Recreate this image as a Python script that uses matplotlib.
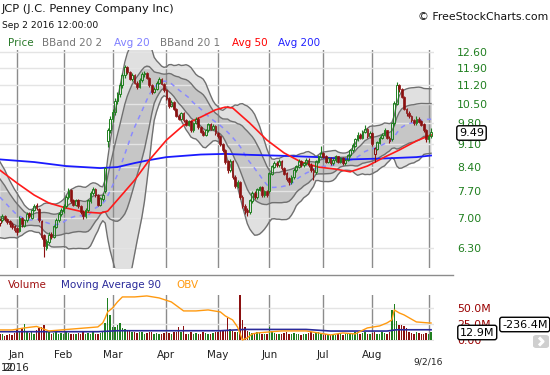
import matplotlib

matplotlib.use("Agg")
import matplotlib.pyplot as plt
import numpy as np
import pandas as pd
from matplotlib.lines import Line2D
from matplotlib.patches import FancyBboxPatch

W, H = 550, 375

# trading days shown, Dec 22 2015 .. Sep 2 2016
holidays = ["2015-12-25", "2016-01-01", "2016-01-18", "2016-02-15",
            "2016-03-25", "2016-05-30", "2016-07-04"]
dates = pd.bdate_range("2015-12-22", "2016-09-02")
dates = dates[~dates.isin(pd.to_datetime(holidays))]

# closes before the visible window, only used to warm up the 20 day bands
warmup_closes = [8.40, 8.30, 8.35, 8.20, 8.05, 7.95, 7.80, 7.70, 7.60, 7.55,
                 7.40, 7.30, 7.20, 7.10, 7.05, 7.00, 6.95, 7.05, 7.00]

opens = [
    6.88, 6.95, 7.05, 6.98, 6.92, 6.86, 6.80,  # dec
    6.76, 6.70, 7.00, 6.82, 6.96, 7.12, 7.02, 7.22, 7.32, 7.22, 6.92, 6.58, 6.30, 6.44,
    6.62, 6.55, 6.80, 6.95, 7.10,  # jan
    7.18, 7.30, 7.55, 7.72, 7.45, 7.35, 7.46, 7.30, 7.15, 7.05, 7.20, 7.45, 7.65, 7.76,
    7.60, 7.35, 7.50, 7.70, 9.20, 9.55,  # feb
    9.95, 10.20, 10.60, 10.85, 11.20, 11.60, 11.95, 11.75, 11.45, 11.60, 11.30, 11.15,
    11.40, 11.65, 11.70, 11.50, 11.20, 10.95, 11.05, 11.30, 11.45, 11.25,  # mar
    11.00, 10.70, 10.40, 10.55, 10.30, 10.05, 9.95, 10.15, 9.90, 9.75, 9.85, 9.55, 9.80,
    9.95, 9.65, 9.50, 9.40, 9.55, 9.75, 9.60, 9.70,  # apr
    9.45, 9.35, 9.10, 8.90, 8.55, 8.30, 8.55, 8.10, 7.85, 7.95, 7.55, 7.30, 7.20, 7.15,
    7.45, 7.65, 7.55, 7.75, 7.80, 7.60, 7.70,  # may
    7.70, 8.20, 8.40, 8.50, 8.45, 8.55, 8.35, 8.20, 8.05, 7.95, 8.10, 8.30, 8.40, 8.55,
    8.45, 8.50, 8.60, 8.45, 8.30, 8.25, 8.55, 8.70,  # jun
    8.80, 8.70, 8.55, 8.65, 8.50, 8.60, 8.70, 8.55, 8.65, 8.50, 8.60, 8.75, 8.90, 9.05,
    9.25, 9.40, 9.30, 9.50, 9.60, 9.35,  # jul
    9.45, 8.80, 8.95, 9.15, 9.30, 9.40, 9.55, 9.30, 9.25, 9.80, 10.50, 11.20, 11.05,
    10.75, 10.30, 10.15, 10.05, 9.90, 9.80, 9.95, 9.85, 9.75, 9.55,  # aug
    9.25, 9.35,  # sep
]
highs = [
    7.00, 7.12, 7.08, 7.02, 6.96, 6.90, 6.84,
    6.80, 7.06, 7.04, 6.99, 7.15, 7.16, 7.24, 7.36, 7.38, 7.26, 6.96, 6.62, 6.50, 6.66,
    6.68, 6.84, 7.00, 7.15, 7.26,
    7.36, 7.60, 7.80, 7.76, 7.50, 7.50, 7.50, 7.34, 7.20, 7.25, 7.50, 7.70, 7.82, 7.80,
    7.64, 7.55, 7.66, 8.40, 9.62, 10.05,
    10.30, 10.70, 10.95, 11.30, 11.70, 12.05, 12.00, 11.80, 11.70, 11.65, 11.38, 11.50,
    11.72, 11.80, 11.75, 11.55, 11.25, 11.12, 11.36, 11.55, 11.50, 11.30,
    11.05, 10.75, 10.62, 10.60, 10.35, 10.12, 10.20, 10.20, 9.95, 9.92, 9.90, 9.85, 10.02,
    10.00, 9.70, 9.55, 9.60, 9.82, 9.80, 9.76, 9.74,
    9.50, 9.40, 9.15, 8.95, 8.60, 8.62, 8.60, 8.15, 8.02, 8.00, 7.60, 7.36, 7.26, 7.50,
    7.70, 7.70, 7.80, 7.86, 7.84, 7.75, 7.74,
    8.25, 8.46, 8.56, 8.58, 8.62, 8.60, 8.40, 8.25, 8.10, 8.16, 8.36, 8.45, 8.62, 8.60,
    8.55, 8.66, 8.65, 8.50, 8.36, 8.60, 8.76, 9.05,
    8.85, 8.75, 8.70, 8.70, 8.65, 8.76, 8.74, 8.70, 8.68, 8.64, 8.80, 8.95, 9.12, 9.30,
    9.50, 9.46, 9.56, 9.72, 9.64, 9.52,
    9.50, 9.00, 9.20, 9.36, 9.46, 9.62, 9.58, 9.36, 9.85, 10.60, 11.35, 11.25, 11.10,
    10.80, 10.35, 10.22, 10.10, 9.96, 10.05, 10.00, 9.90, 9.80, 9.60,
    9.42, 9.62,
]
lows = [
    6.82, 6.90, 6.93, 6.86, 6.80, 6.74, 6.66,
    6.60, 6.66, 6.80, 6.78, 6.92, 7.00, 6.98, 7.18, 7.20, 6.90, 6.50, 6.10, 6.26, 6.40,
    6.50, 6.52, 6.76, 6.90, 7.05,
    7.14, 7.26, 7.50, 7.40, 7.30, 7.30, 7.26, 7.10, 6.98, 7.00, 7.16, 7.40, 7.60, 7.55,
    7.30, 7.30, 7.45, 7.65, 9.00, 9.45,
    9.85, 10.10, 10.50, 10.75, 11.10, 11.50, 11.65, 11.40, 11.38, 11.25, 11.05, 11.10,
    11.35, 11.55, 11.45, 11.15, 10.88, 10.90, 11.00, 11.25, 11.20, 10.95,
    10.65, 10.35, 10.36, 10.25, 10.00, 9.90, 9.90, 9.85, 9.70, 9.70, 9.50, 9.50, 9.76,
    9.60, 9.45, 9.35, 9.36, 9.50, 9.55, 9.56, 9.40,
    9.30, 9.05, 8.85, 8.48, 8.22, 8.25, 8.05, 7.80, 7.80, 7.50, 7.25, 7.12, 7.05, 7.10,
    7.40, 7.50, 7.50, 7.70, 7.55, 7.55, 7.55,
    7.65, 8.15, 8.35, 8.40, 8.40, 8.30, 8.15, 8.00, 7.88, 7.90, 8.05, 8.25, 8.35, 8.40,
    8.40, 8.45, 8.40, 8.25, 8.02, 8.20, 8.50, 8.65,
    8.65, 8.50, 8.50, 8.45, 8.46, 8.55, 8.50, 8.52, 8.45, 8.46, 8.56, 8.70, 8.85, 9.00,
    9.20, 9.25, 9.25, 9.45, 9.30, 9.30,
    9.05, 8.55, 8.90, 9.10, 9.25, 9.35, 9.25, 9.12, 9.20, 9.75, 10.45, 10.95, 10.70,
    10.25, 10.05, 9.98, 9.85, 9.72, 9.75, 9.80, 9.70, 9.50, 9.18,
    9.18, 9.30,
]
closes = [
    6.95, 7.05, 6.98, 6.90, 6.85, 6.78, 6.72,
    6.66, 7.00, 6.85, 6.95, 7.10, 7.05, 7.20, 7.30, 7.25, 6.95, 6.55, 6.35, 6.45, 6.60,
    6.55, 6.80, 6.95, 7.10, 7.20,
    7.30, 7.55, 7.70, 7.45, 7.35, 7.45, 7.30, 7.15, 7.05, 7.20, 7.45, 7.65, 7.75, 7.60,
    7.35, 7.50, 7.60, 8.35, 9.55, 9.95,
    10.20, 10.60, 10.85, 11.20, 11.60, 11.95, 11.75, 11.45, 11.60, 11.30, 11.15, 11.40,
    11.65, 11.70, 11.50, 11.20, 10.95, 11.05, 11.30, 11.45, 11.25, 11.00,
    10.70, 10.40, 10.55, 10.30, 10.05, 9.95, 10.15, 9.90, 9.75, 9.85, 9.55, 9.80, 9.95,
    9.65, 9.50, 9.40, 9.55, 9.75, 9.60, 9.70, 9.45,
    9.35, 9.10, 8.90, 8.55, 8.30, 8.55, 8.10, 7.85, 7.95, 7.55, 7.30, 7.20, 7.15, 7.45,
    7.65, 7.55, 7.75, 7.80, 7.60, 7.70, 7.60,
    8.20, 8.40, 8.50, 8.45, 8.55, 8.35, 8.20, 8.05, 7.95, 8.10, 8.30, 8.40, 8.55, 8.45,
    8.50, 8.60, 8.45, 8.30, 8.25, 8.55, 8.70, 8.80,
    8.70, 8.55, 8.65, 8.50, 8.60, 8.70, 8.55, 8.65, 8.50, 8.60, 8.75, 8.90, 9.05, 9.25,
    9.40, 9.30, 9.50, 9.60, 9.35, 9.45,
    9.10, 8.95, 9.15, 9.30, 9.40, 9.55, 9.30, 9.20, 9.80, 10.50, 11.20, 11.05, 10.75,
    10.30, 10.15, 10.05, 9.90, 9.80, 9.95, 9.85, 9.75, 9.55, 9.25,
    9.35, 9.49,
]
# daily volume, millions
volumes = [
    9, 10, 7, 8, 9, 8, 11,
    17, 13, 18, 25, 12, 11, 13, 10, 16, 19, 21, 23, 14, 12, 10, 11, 12, 10, 11,
    10, 12, 11, 9, 10, 9, 11, 10, 12, 9, 11, 10, 12, 9, 10, 11, 13, 26, 65, 39,
    21, 20, 24, 26, 18, 17, 15, 16, 13, 12, 11, 13, 12, 10, 11, 12, 13, 10, 11, 9, 10, 11,
    12, 11, 10, 12, 13, 20, 12, 22, 10, 9, 12, 10, 11, 9, 10, 12, 11, 10, 9, 11, 12,
    13, 15, 14, 16, 34, 17, 14, 13, 12, 70, 31, 21, 14, 12, 11, 10, 12, 11, 10, 9, 10,
    20, 14, 11, 10, 9, 10, 11, 12, 10, 9, 11, 10, 9, 8, 10, 9, 11, 12, 10, 11, 12, 9,
    8, 9, 10, 8, 9, 8, 10, 9, 8, 9, 10, 11, 9, 12, 13, 10, 11, 12, 10, 9,
    11, 13, 10, 9, 12, 11, 10, 12, 47, 57, 30, 23, 24, 22, 18, 12, 11, 10, 12, 11, 9, 10, 11,
    10, 12.9,
]

# averages at a few trading days (they need history the chart does not show)
ma50_idx = [0, 7, 14, 20, 27, 34, 41, 44, 48, 55, 61, 68, 75, 82, 88, 92, 95, 102, 109,
            116, 123, 130, 137, 143, 150, 157, 163, 170, 176]
ma50_vals = [8.30, 7.93, 7.60, 7.39, 7.26, 7.16, 7.13, 7.18, 7.47, 8.01, 8.60, 9.23, 9.73,
             10.01, 10.27, 10.37, 10.34, 9.80, 9.23, 8.82, 8.54, 8.39, 8.33, 8.25, 8.42,
             8.69, 8.91, 9.20, 9.40]
ma200_idx = [0, 14, 27, 41, 48, 55, 61, 68, 82, 92, 102, 116, 130, 143, 157, 170, 176]
ma200_vals = [8.62, 8.54, 8.42, 8.36, 8.39, 8.51, 8.60, 8.69, 8.77, 8.79, 8.76, 8.73, 8.69,
              8.62, 8.65, 8.69, 8.74]
vol_ma_idx = [0, 40, 48, 90, 100, 125, 135, 158, 162, 176]
vol_ma_vals = [13, 13, 14.5, 14.5, 16.5, 16.5, 14, 14, 16, 16]
obv_idx = [0, 5, 10, 15, 20, 25, 30, 35, 40, 42, 43, 44, 45, 46, 48, 50, 55, 60, 65, 70,
           75, 80, 85, 90, 92, 95, 97, 99, 101, 103, 105, 110, 115, 120, 125, 130, 135,
           140, 145, 150, 155, 158, 160, 161, 163, 165, 170, 175, 176]
obv_vals = [-278, -278, -266, -257, -284, -278, -272, -266, -260, -236, -206, -170, -158,
            -146, -110, -80, -80, -74, -86, -110, -164, -164, -158, -170, -194, -218, -260,
            -338, -326, -302, -296, -290, -284, -284, -284, -296, -308, -296, -302, -266,
            -254, -236, -218, -158, -176, -188, -230, -236, -236.4]

price_ticks = [6.30, 7.00, 7.70, 8.40, 9.10, 9.80, 10.50, 11.20, 11.90, 12.60]
volume_ticks = [0, 25, 50]
volume_tick_labels = ["0.00", "25.0M", "50.0M"]

GREEN = "#1f7f1f"
RED = "#8b1010"

o = np.array(opens)
h = np.array(highs)
lo = np.array(lows)
c = np.array(closes)
v = np.array(volumes)
n = len(c)
x = np.arange(n)

all_close = pd.Series(warmup_closes + closes)
mid = all_close.rolling(20).mean().to_numpy()[-n:]
sd = all_close.rolling(20).std(ddof=0).to_numpy()[-n:]

prev = np.r_[warmup_closes[-1], c[:-1]]
up = c >= prev
colors = np.where(up, GREEN, RED)

fig = plt.figure(figsize=(W / 100, H / 100), dpi=100)


def px(xp, yp):
    return xp / W, 1 - yp / H


def ftext(xp, yp, s, **kw):
    fig.text(*px(xp, yp), s, va="center", **kw)


ax = fig.add_axes([0, 1 - 268 / H, 434 / W, 218 / H])
ax.set_yscale("log")
ax.set_xlim(0.06, 177.2)
ax.set_ylim(5.873, 12.689)

ax.fill_between(x, mid - 2 * sd, mid + 2 * sd, color="#e0e0e0", lw=0, zorder=1)
ax.fill_between(x, mid - sd, mid + sd, color="#c6c6c6", lw=0, zorder=1)
for band in (mid - 2 * sd, mid + 2 * sd, mid - sd, mid + sd):
    ax.plot(x, band, color="#707070", lw=1, zorder=2)
ax.plot(x, mid, color="#8a8aff", lw=1.1, ls=(0, (3, 3)), zorder=2.2)
ax.plot(ma200_idx, ma200_vals, color="#1a1aff", lw=1.3, zorder=2.4)
ax.plot(ma50_idx, ma50_vals, color="#ff1a1a", lw=1.2, zorder=2.5)

body_lo = np.minimum(o, c)
body_hi = np.maximum(o, c)
ax.vlines(x, lo, body_lo, colors=colors, lw=0.8, zorder=4)
ax.vlines(x, body_hi, h, colors=colors, lw=0.8, zorder=4)
hollow = c >= o
ax.bar(x[hollow], (body_hi - body_lo)[hollow] + 0.01, bottom=body_lo[hollow], width=0.7,
       facecolor="none", edgecolor=colors[hollow], lw=0.7, zorder=4)
ax.bar(x[~hollow], (body_hi - body_lo)[~hollow] + 0.01, bottom=body_lo[~hollow], width=0.7,
       color=colors[~hollow], edgecolor=colors[~hollow], lw=0.5, zorder=4)

month_idx = [i for i in range(1, n) if dates[i].month != dates[i - 1].month]
month_labels = [dates[i].strftime("%b") for i in month_idx]
month_labels[-1] = ""

ax.set_xticks(month_idx)
ax.set_yticks(price_ticks, labels=[f"{t:.2f}" for t in price_ticks])
ax.set_yticks([], minor=True)
ax.yaxis.tick_right()
ax.tick_params(axis="x", length=0, labelbottom=False)
ax.tick_params(axis="y", which="both", length=0, pad=16.5, labelsize=7.8, labelcolor=GREEN)
ax.set_axisbelow("line")
ax.grid(axis="y", color="#e4e4e4", lw=1)
ax.grid(axis="x", color="#8c8c8c", lw=1)
for s in ax.spines.values():
    s.set_visible(False)

# volume panel
axv = fig.add_axes([0, 1 - 341 / H, 434 / W, 46 / H])
axv.set_xlim(ax.get_xlim())
axv.set_ylim(-1.56, 70.3)
axv.bar(x, v, width=0.6, color=colors, zorder=2)
axv.plot(vol_ma_idx, vol_ma_vals, color="#2a2a9a", lw=1.2, zorder=3)
axo = axv.twinx()
axo.set_ylim(-344.4, -68.4)
axo.plot(obv_idx, obv_vals, color="#ff9a10", lw=1)
axo.set_yticks([])
axv.yaxis.tick_right()
axv.set_xticks(month_idx, labels=month_labels)
axv.set_yticks(volume_ticks, labels=volume_tick_labels)
axv.tick_params(axis="x", length=0, pad=6.5, labelsize=7.5, labelcolor="#222222")
axv.tick_params(axis="y", length=0, pad=16.5, labelsize=7.8, labelcolor="#990000")
axv.set_axisbelow("line")
axv.grid(axis="y", color="#e4e4e4", lw=1)
axv.grid(axis="x", color="#8c8c8c", lw=1)
for a in (axv, axo):
    for s in a.spines.values():
        s.set_visible(False)
axv.text(month_idx[-1], -0.46, f"{dates[-1].month}/{dates[-1].day}/{dates[-1]:%y}",
         transform=axv.get_xaxis_transform(), ha="center", va="center", fontsize=6.6,
         color="#222222")

fig.add_artist(Line2D([0, 453 / W], [1 - 275 / H] * 2, color="#8c8c8c", lw=1))

# header texts
ftext(2, 9, "JCP (J.C. Penney Company Inc)", fontsize=8.2, color="#111111")
ftext(2, 25, "Sep 2 2016 12:00:00", fontsize=6.6, color="#111111")
ftext(548, 17, "\u00a9 FreeStockCharts.com", fontsize=7.8, color="#111111", ha="right")
legend = [(8, "Price", "#2a7a2a"), (42, "BBand 20 2", "#777777"), (114, "Avg 20", "#7f7fff"),
          (160, "BBand 20 1", "#777777"), (232, "Avg 50", "#ff0000"), (278, "Avg 200", "#2222ff")]
for xp, label, col in legend:
    ftext(xp, 43, label, fontsize=7.5, color=col)
for xp, label, col in [(8, "Volume", "#a01010"), (61, "Moving Average 90", "#2a2a9a"),
                       (176, "OBV", "#ff9a10")]:
    ftext(xp, 285, label, fontsize=7.5, color=col)

ftext(3, 368, "2016", fontsize=7.4, color="#222222")
ftext(0.5, 368, "12", fontsize=7.4, color="#222222")

box = dict(boxstyle="round,pad=0.2", fc="white", ec="black", lw=1)
ftext(459, 133, f"{closes[-1]:.2f}", fontsize=8, color="black", bbox=box)
ftext(460, 332.5, f"{volumes[-1]:.1f}M", fontsize=8, color="black", bbox=box)
ftext(502, 324.5, f"{obv_vals[-1]:.1f}M", fontsize=8, color="black", bbox=box)

fig.add_artist(FancyBboxPatch(px(533, 348), 16 / W, 13 / H, boxstyle="round,pad=0,rounding_size=0.006",
                              fc="#cfcfcf", ec="none", transform=fig.transFigure))
fig.add_artist(Line2D([539 / W, 543 / W, 539 / W], [1 - 337.5 / H, 1 - 341.5 / H, 1 - 345.5 / H],
                      color="white", lw=2.2, solid_capstyle="butt"))

fig.savefig("out.png", dpi=100)
